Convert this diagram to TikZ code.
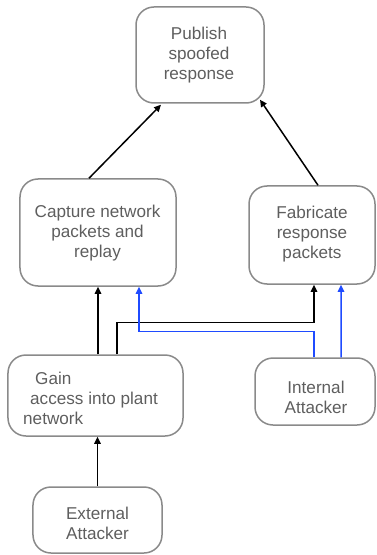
\documentclass[tikz,border=0pt]{standalone}
\usepackage{fontspec}
\setmainfont{Liberation Sans}
\usetikzlibrary{arrows.meta}
\definecolor{boxgray}{HTML}{8A8A8A}
\definecolor{txtgray}{HTML}{5E5E5E}
\definecolor{linkblue}{HTML}{1F4BFF}
\tikzset{
  box/.style={draw=boxgray, line width=1.5bp, rounded corners=18bp, inner sep=0pt},
  lbl/.style={text=txtgray, align=center, inner sep=0pt, font=\fontsize{17.2}{20}\selectfont},
  arr/.style={line width=1.5bp, -{Triangle[length=7bp,width=6.5bp]}},
  arrblue/.style={arr, draw=linkblue, -{Triangle[length=7bp,width=6.5bp,fill=linkblue]}}
}
\begin{document}
\begin{tikzpicture}[x=1bp,y=-1bp]
\useasboundingbox (0,0) rectangle (376,555);
% boxes
\node[box, minimum width=128bp, minimum height=96bp] (pub) at (200,55) {};
\node[box, minimum width=156bp, minimum height=107bp] (cap) at (98,232.5) {};
\node[box, minimum width=126bp, minimum height=98bp] (fab) at (312,235) {};
\node[box, minimum width=175bp, minimum height=81bp] (gain) at (95.5,395.5) {};
\node[box, minimum width=120bp, minimum height=67bp] (int) at (315,391.5) {};
\node[box, minimum width=129bp, minimum height=66bp] (ext) at (97.5,520) {};
% texts
\node[lbl] (tpub) at (199,55) {Publish\\spoofed\\response};
\node[lbl] (tcap) at (97.5,233) {Capture network\\packets and\\replay};
\node[lbl] (tfab) at (312,234) {Fabricate\\response\\packets};
\node[lbl, align=left, anchor=west] (tgain) at (23,398) {\hspace*{12bp}Gain\\\hspace*{7bp}access into plant\\network};
\node[lbl] (tint) at (316,397) {Internal\\Attacker};
\node[lbl] (text) at (97.5,523) {External\\Attacker};
% connectors
\draw[arr] ([xshift=-9bp]cap.north) -- ([shift={(-39,1)}]pub.south);
\draw[arr] ([xshift=6bp]fab.north) -- ([shift={(60,-4)}]pub.south);
\draw[arr] (gain.north -| cap.south) -- (cap.south);
\draw[arr] ([xshift=21.5bp]gain.north) -- ++(0,-32) -| ([xshift=2bp]fab.south);
\draw[arrblue] ([xshift=-1bp]int.north) -- ++(0,-26) -| ([xshift=41bp]cap.south);
\draw[arrblue] ([xshift=26bp]int.north) -- ([xshift=29bp]fab.south);
\draw[arr] (ext.north) -- (ext.north |- gain.south);
\end{tikzpicture}
\end{document}
